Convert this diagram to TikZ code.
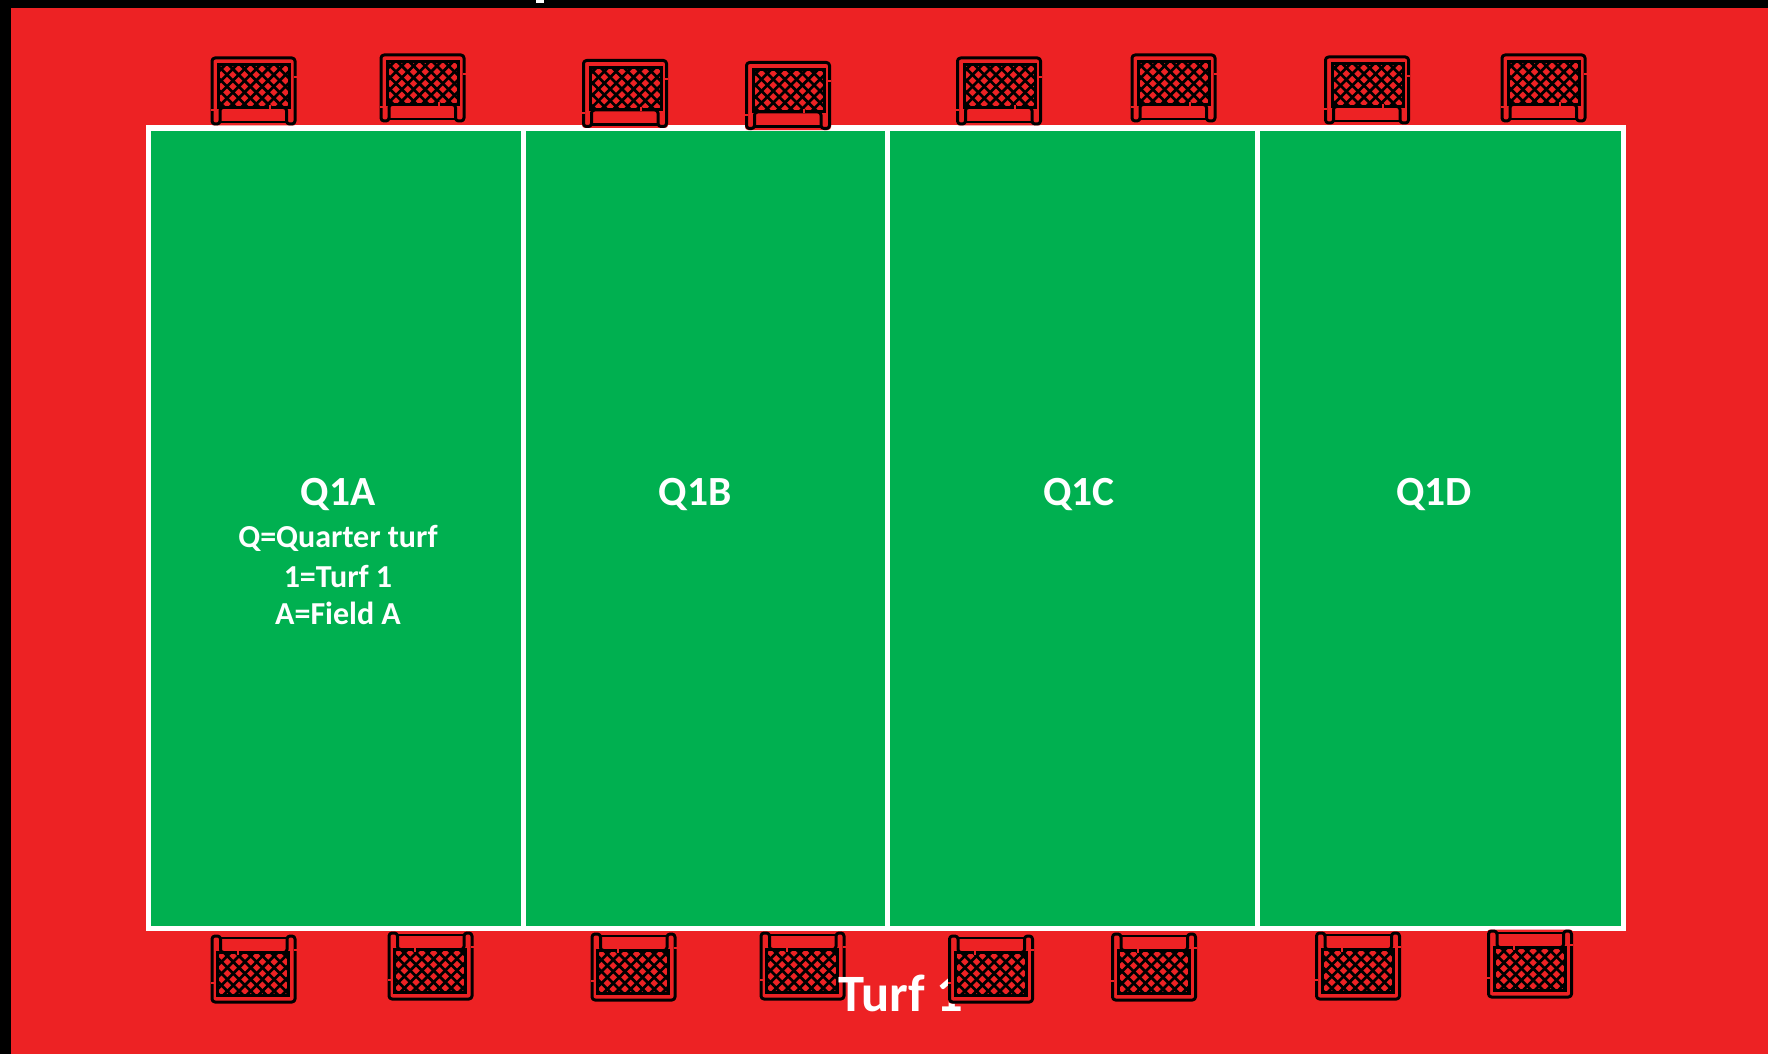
\documentclass[tikz,border=0pt]{standalone}
\usepackage{fontspec}
\setmainfont{Carlito}
\definecolor{turfred}{HTML}{ED2224}
\definecolor{turfgreen}{HTML}{00B050}
\tikzset{
  x=1pt,y=-1pt,
  fieldbox/.style={draw=white,line width=5pt,fill=turfgreen},
  divider/.style={draw=white,line width=5pt},
  bigfield/.style={text=white,font=\bfseries\fontsize{41.5}{41.5}\selectfont,inner sep=0pt},
  smallfield/.style={text=white,font=\bfseries\fontsize{32}{32}\selectfont,inner sep=0pt},
  turftext/.style={text=white,font=\bfseries\fontsize{52.5}{52.5}\selectfont,inner sep=0pt},
  goalline/.style={draw=black,line width=3pt,line join=round,rounded corners=3pt},
  netline/.style={draw=black,line width=2.7pt},
  goal/.pic={
    \begin{scope}[shift={(-43,-34.5)}]
      \fill[turfred,rounded corners=3pt] (0,0) rectangle (86,69);
      \draw[goalline] (1.5,67.5) -- (1.5,1.5) -- (84.5,1.5) -- (84.5,67.5) -- (76,67.5) -- (76,51) -- (9.5,51) -- (9.5,67.5) -- cycle;
      \draw[goalline,rounded corners=0pt,line width=2.5pt] (9.5,65.5) -- (76,65.5);
      \begin{scope}
        \clip (8,8.5) rectangle (79,51);
        \fill[turfred] (8,8.5) rectangle (79,51);
        \foreach \d in {-72,-60.3,...,130} {
          \draw[netline] (\d,0) -- (\d+60,60);
          \draw[netline] (\d+60,0) -- (\d,60);
        }
      \end{scope}
      \draw[draw=black,line width=3pt] (8,8.5) rectangle (79,51);
      \fill[turfred] (58,48.5) rectangle (60,52.5);
      \fill[turfred] (83,19.5) rectangle (86,21.5);
      \fill[turfred] (0,53) rectangle (3,55);
    \end{scope}
  }
}
\begin{document}
\begin{tikzpicture}
  \useasboundingbox (0,0) rectangle (1768,1054);
  \fill[black] (0,0) rectangle (1768,1054);
  \fill[turfred] (11,8) rectangle (1768,1054);
  \fill[white] (536,0) rectangle (544,3);
  \draw[fieldbox] (148,128) rectangle (1623,928);
  \coordinate (t1) at (523,128); \coordinate (b1) at (523,928);
  \coordinate (t2) at (887,128); \coordinate (b2) at (887,928);
  \coordinate (t3) at (1257,128); \coordinate (b3) at (1257,928);
  \draw[divider] (t1) -- (b1);
  \draw[divider] (t2) -- (b2);
  \draw[divider] (t3) -- (b3);
  \node[bigfield] (q1a) at (338,494) {Q1A};
  \node[smallfield] (qa) at (338,538) {Q=Quarter turf};
  \node[smallfield] (qb) at (338,576) {1=Turf 1};
  \node[smallfield] (qc) at (338,613) {A=Field A};
  \node[bigfield] (q1b) at (695,494) {Q1B};
  \node[bigfield] (q1c) at (1079,494) {Q1C};
  \node[bigfield] (q1d) at (1434,494) {Q1D};
  \foreach \x/\y in {253.5/91,422.5/88,625/93.5,788/95.5,999/91,1173.5/88,1367/90,1543.5/88} {
    \pic at (\x,\y) {goal};
  }
  \pic[rotate=180] at (253.5,969) {goal};
  \pic[rotate=180] at (430.5,966) {goal};
  \pic[rotate=180] at (633.5,967) {goal};
  \pic[rotate=180] at (802.5,966) {goal};
  \node[turftext] (turf) at (901,993) {Turf 1};
  \pic[rotate=180] at (991,969) {goal};
  \pic[rotate=180] at (1154,967) {goal};
  \pic[rotate=180] at (1358,966) {goal};
  \pic[rotate=180] at (1530,964) {goal};
\end{tikzpicture}
\end{document}
